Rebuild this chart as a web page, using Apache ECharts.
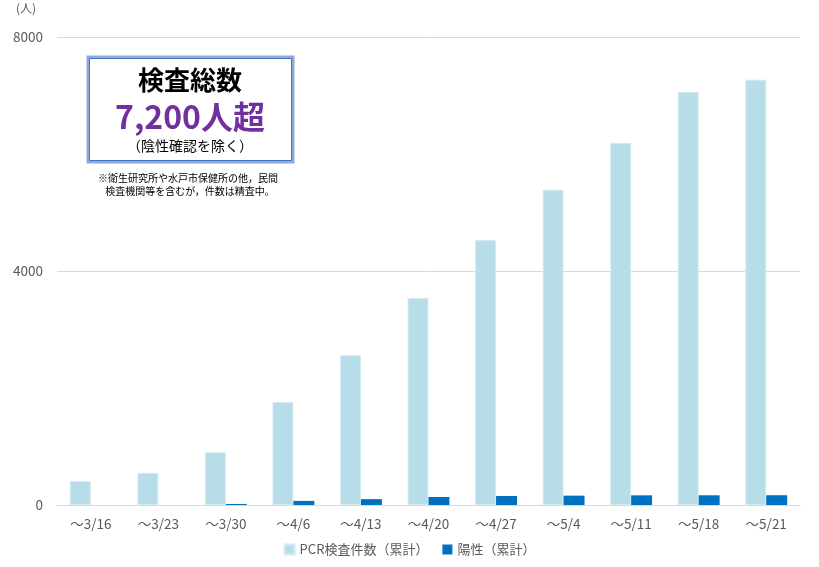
<!DOCTYPE html>
<html><head><meta charset="utf-8">
<style>html,body{margin:0;padding:0;background:#fff}#c{width:819px;height:567px}</style>
<script src="https://cdn.jsdelivr.net/npm/echarts@6/dist/echarts.min.js"></script>
</head><body><div id="c"></div>
<script>
const categories = ['～3/16','～3/23','～3/30','～4/6','～4/13','～4/20','～4/27','～5/4','～5/11','～5/18','～5/21'];
const pcrTotal = [410, 550, 900, 1760, 2560, 3540, 4530, 5390, 6190, 7060, 7270];
const positive = [0, 0, 18, 70, 100, 137, 154, 160, 165, 166, 167];
const seriesNames = ['PCR検査件数（累計）', '陽性（累計）'];
const yTicks = [0, 4000, 8000];

const font = '"Noto Sans CJK JP", "Noto Sans", sans-serif';
const chart = echarts.init(document.getElementById('c'), null, {renderer: 'canvas'});
chart.setOption({
  animation: false,
  textStyle: {fontFamily: font},
  grid: {left: 57, right: 19, top: 37, bottom: 62, containLabel: false},
  legend: {
    bottom: 6, left: 'center', itemWidth: 10, itemHeight: 10, itemGap: 14,
    icon: 'rect',
    textStyle: {color: '#595959', fontSize: 13, fontFamily: font},
    data: seriesNames
  },
  xAxis: {
    type: 'category', data: categories,
    axisLine: {lineStyle: {color: '#d9d9d9'}},
    axisTick: {show: false},
    axisLabel: {color: '#595959', fontSize: 13.5, margin: 12, fontFamily: font}
  },
  yAxis: {
    type: 'value', min: yTicks[0], max: yTicks[yTicks.length - 1], interval: 4000,
    axisLine: {show: false}, axisTick: {show: false},
    axisLabel: {color: '#595959', fontSize: 13.5, margin: 14, fontFamily: font, formatter: v => String(v)},
    splitLine: {lineStyle: {color: '#d9d9d9'}}
  },
  series: [
    {name: seriesNames[0], type: 'bar', data: pcrTotal, barGap: '0%', barCategoryGap: '38%',
     itemStyle: {color: '#b7dde8', borderColor: '#d4ebf2', borderWidth: 1}},
    {name: seriesNames[1], type: 'bar', data: positive,
     itemStyle: {color: '#0070c0'}}
  ],
  graphic: [
    {type: 'text', left: 16, top: 2, style: {text: '(人)', fill: '#595959', font: '12px ' + font}},
    {type: 'rect', shape: {x: 88, y: 57, width: 205, height: 105},
     style: {fill: '#fff', stroke: '#8ea9db', lineWidth: 3}},
    {type: 'rect', shape: {x: 89.5, y: 58.5, width: 202, height: 102},
     style: {fill: 'none', stroke: '#4472c4', lineWidth: 1}},
    {type: 'text', x: 190, y: 80, style: {text: '検査総数', fill: '#000', font: 'bold 26px ' + font, align: 'center', verticalAlign: 'middle'}},
    {type: 'text', x: 190, y: 117, style: {text: '7,200人超', fill: '#7030a0', font: 'bold 32px ' + font, align: 'center', verticalAlign: 'middle'}},
    {type: 'text', x: 190, y: 146, style: {text: '（陰性確認を除く）', fill: '#000', font: '14px ' + font, align: 'center', verticalAlign: 'middle'}},
    {type: 'text', x: 188, y: 178, style: {text: '※衛生研究所や水戸市保健所の他，民間', fill: '#000', font: '10px ' + font, align: 'center', verticalAlign: 'middle'}},
    {type: 'text', x: 190, y: 191, style: {text: '検査機関等を含むが，件数は精査中。', fill: '#000', font: '10px ' + font, align: 'center', verticalAlign: 'middle'}}
  ]
});
</script></body></html>
